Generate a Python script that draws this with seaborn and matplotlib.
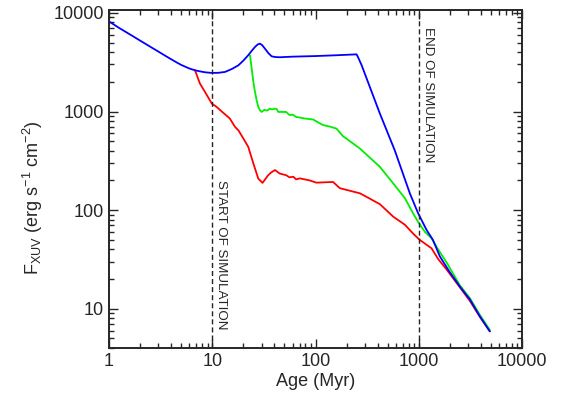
import matplotlib
matplotlib.use("Agg")
import matplotlib.pyplot as plt
import seaborn as sns
import numpy as np

# ---- data ----
blue_age = [1, 1.25, 1.5, 2, 2.5, 3, 3.5, 4, 4.5, 5, 6, 6.8, 7.5, 8.5, 9.9, 11.5, 13.3, 15.5, 17.9, 20, 22.3,
            24, 25.9, 27.5, 29, 30.5, 32.4, 35, 37.6, 40.5, 45,
            60, 100, 160, 250, 260, 280, 420, 585, 820, 986, 1190, 1370, 1600, 1980, 2500, 3130, 3900, 4880]
blue_flux = [8200, 7050, 6290, 5240, 4550, 4060, 3680, 3390, 3155, 2970, 2730, 2620, 2560, 2500, 2460, 2470, 2520, 2700, 2940, 3280, 3720,
             4100, 4510, 4780, 4880, 4700, 4340, 3900, 3630, 3570, 3550,
             3600, 3650, 3720, 3800, 3500, 2940, 955, 405, 148, 93, 63, 50, 34, 23.8, 16.8, 12.4, 8.4, 5.9]

green_age = [23.2, 24, 25, 25.9, 26.9, 27.9, 29, 30, 32, 34, 36, 38, 40.5, 42, 43.7, 48, 52, 56, 60, 65, 70, 78, 95, 105, 118,
             140, 160, 185, 200, 270, 420, 565, 735, 880, 986, 1150, 1330, 1540, 1860, 2500, 3130, 3900, 4880]
green_flux = [3720, 2830, 2000, 1600, 1300, 1115, 1030, 990, 1040, 1020, 1070, 1050, 1070, 1060, 990, 990, 990, 920, 930, 880, 870, 850, 830, 780, 730,
              700, 670, 560, 530, 420, 275, 187, 132, 93, 76, 60, 52, 40, 29.5, 17.3, 12.8, 8.7, 6.1]

red_age = [6.8, 7.6, 8.5, 9.9, 11.0, 12.5, 14.8, 16.6, 18, 20, 22.3, 25, 27.9, 30.7, 32.5, 34.8, 37, 40.5, 45, 52, 56, 61, 65, 70.5,
           88, 102, 148, 172, 270, 420, 565, 735, 880, 1020, 1330, 1540, 1860, 2500, 3130, 3900, 4880]
red_flux = [2620, 1920, 1580, 1205, 1115, 990, 849, 699, 640, 533, 439, 298, 209, 189, 205, 226, 240, 255, 235, 226, 215, 218, 205, 210,
            200, 190, 193, 167, 148, 115, 86, 71, 58, 50, 41, 32, 25, 16.5, 12.0, 8.3, 5.9]

x_ticks = [1, 10, 100, 1000, 10000]
x_tick_labels = ["1", "10", "100", "1000", "10000"]
y_ticks = [10, 100, 1000, 10000]
y_tick_labels = ["10", "100", "1000", "10000"]

sim_start = 10
sim_end = 1000

# ---- style ----
sns.set_style("ticks")
plt.rcParams["font.family"] = ["Liberation Sans", "DejaVu Sans"]
plt.rcParams["mathtext.fontset"] = "custom"
plt.rcParams["mathtext.rm"] = "Liberation Sans"
plt.rcParams["mathtext.it"] = "Liberation Sans:italic"

fig = plt.figure(figsize=(5.63, 3.96), dpi=100)
ax = fig.add_axes([109 / 563, 1 - 348 / 396, (522 - 109) / 563, (348 - 10) / 396])

lw = 1.3
sns.lineplot(x=red_age, y=red_flux, color="#ff0000", lw=lw, ax=ax, estimator=None, sort=False)
sns.lineplot(x=green_age, y=green_flux, color="#00ee00", lw=lw, ax=ax, estimator=None, sort=False)
sns.lineplot(x=blue_age, y=blue_flux, color="#0000ff", lw=lw, ax=ax, estimator=None, sort=False)

ax.axvline(sim_start, color="#222222", ls=(0, (3.6, 2.2)), lw=1.0)
ax.axvline(sim_end, color="#222222", ls=(0, (3.6, 2.2)), lw=1.0)

ax.set_xscale("log")
ax.set_yscale("log")
ax.set_xlim(1, 10000)
ax.set_ylim(4.0, 10700)

ax.set_xticks(x_ticks, labels=x_tick_labels)
ax.set_yticks(y_ticks, labels=y_tick_labels)

ax.tick_params(which="both", direction="in", top=True, right=True, labelsize=13, width=1.0)
ax.tick_params(which="major", length=6.5, pad=3.5)
ax.tick_params(which="minor", length=3.4)
for s in ax.spines.values():
    s.set_linewidth(1.4)

ax.set_xlabel("Age (Myr)", fontsize=13, va="center")
ax.set_ylabel(r"F$_{\mathrm{XUV}}$ (erg s$^{-1}$ cm$^{-2}$)", fontsize=13, va="center")
ax.yaxis.set_label_coords(-0.185, 0.445)
ax.xaxis.set_label_coords(0.5, -0.10)

ax.text(10.6, 202, "START OF SIMULATION", rotation=-90, ha="left", va="top", fontsize=9.6)
ax.text(1070, 7130, "END OF SIMULATION", rotation=-90, ha="left", va="top", fontsize=9.6)

fig.savefig("out.png", dpi=100)
